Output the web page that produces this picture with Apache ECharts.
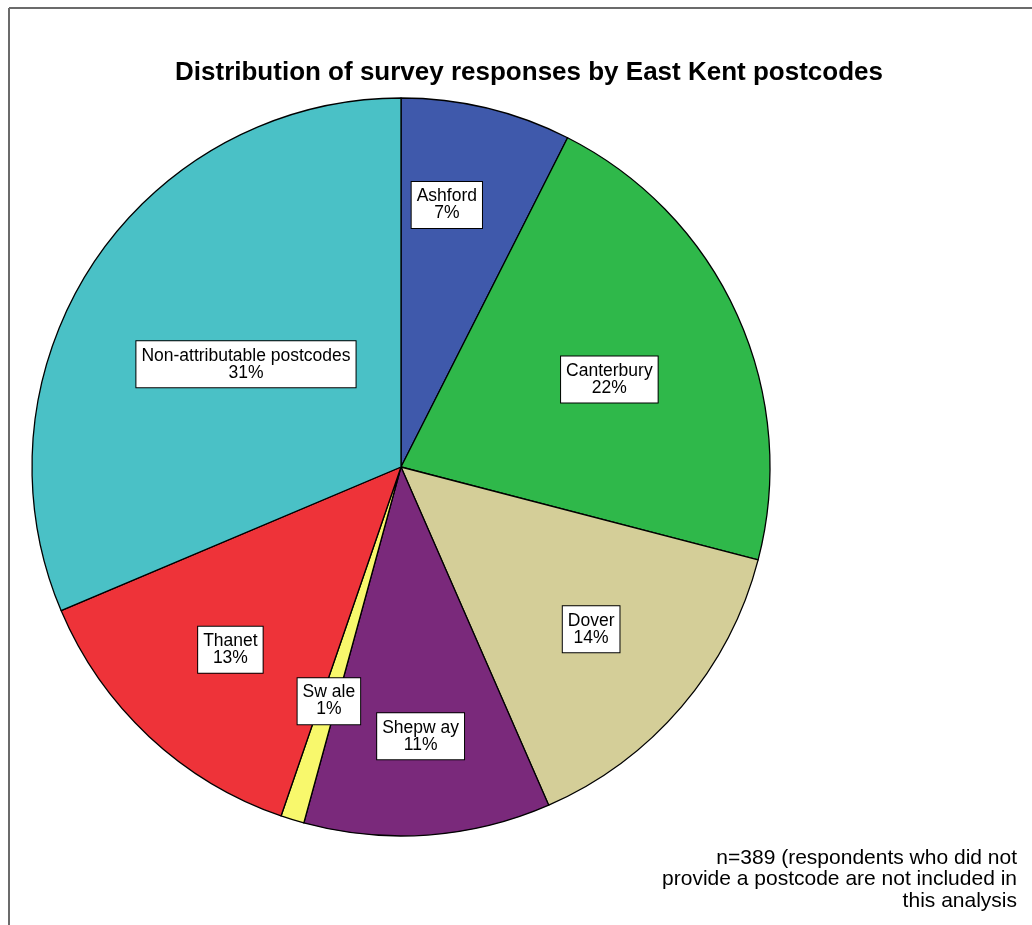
<!DOCTYPE html>
<html>
<head>
<meta charset="utf-8">
<script src="https://cdn.jsdelivr.net/npm/echarts@6/dist/echarts.min.js"></script>
<style>
html,body{margin:0;padding:0;background:#fff;}
#chart{width:1032px;height:925px;}
</style>
</head>
<body>
<div id="chart"></div>
<script>
// ---- data ----
const categories = ['Ashford', 'Canterbury', 'Dover', 'Shepw ay', 'Sw ale', 'Thanet', 'Non-attributable postcodes'];
const counts = [29, 84, 56, 42, 4, 52, 122];
const sliceColors = ['#3F59AB', '#2FB84A', '#D4CE98', '#7A297B', '#F8F86C', '#EE3339', '#4AC1C6'];
const titleText = 'Distribution of survey responses by East Kent postcodes';
const noteLines = ['n=389 (respondents who did not', 'provide a postcode are not included in', 'this analysis'];

// ---- layout (style only) ----
const CX = 401, CY = 467, R = 369;
const labelRadius = [266, 226, 250, 270, 245, 250, 186];
const labelAngleShift = [-3.5, 1.5, 0, 0, 0, 0, 0]; // degrees, clockwise

const total = counts.reduce((a, b) => a + b, 0);
const chart = echarts.init(document.getElementById('chart'), null, {renderer: 'canvas'});

const option = {
  backgroundColor: '#ffffff',
  animation: false,
  title: {
    text: titleText,
    left: 524,
    top: 55,
    textAlign: 'center',
    textStyle: {fontFamily: 'Liberation Sans', fontWeight: 'bold', fontSize: 26, color: '#000'}
  },
  graphic: [
    {type: 'line', shape: {x1: 9, y1: 8, x2: 1032, y2: 8}, style: {stroke: '#6b6b6b', lineWidth: 2}, silent: true},
    {type: 'line', shape: {x1: 9, y1: 8, x2: 9, y2: 925}, style: {stroke: '#6b6b6b', lineWidth: 2}, silent: true},
    {
      type: 'text', right: 15, top: 847,
      style: {
        text: noteLines.join('\n'),
        fontFamily: 'Liberation Sans', fontSize: 21, lineHeight: 21.5,
        fill: '#000', textAlign: 'right'
      }
    }
  ],
  series: [{
    type: 'pie',
    center: [CX, CY],
    radius: [0, R],
    startAngle: 90,
    clockwise: true,
    avoidLabelOverlap: false,
    itemStyle: {borderColor: '#000', borderWidth: 1.3},
    emphasis: {disabled: true},
    label: {
      show: true,
      position: 'inside',
      formatter: p => p.name + '\n' + Math.round(p.value / total * 100) + '%',
      fontFamily: 'Liberation Sans',
      fontSize: 17.5,
      lineHeight: 17,
      color: '#000',
      backgroundColor: '#fff',
      borderColor: '#000',
      borderWidth: 1,
      padding: [6, 5, 6, 5],
      align: 'center'
    },
    labelLine: {show: false},
    labelLayout: function (params) {
      const r = params.labelRect;
      const lx = r.x + r.width / 2, ly = r.y + r.height / 2;
      const vx = lx - CX, vy = ly - CY;
      const ang = Math.atan2(vx, -vy) + labelAngleShift[params.dataIndex] * Math.PI / 180;
      const rr = labelRadius[params.dataIndex];
      const nx = CX + rr * Math.sin(ang), ny = CY - rr * Math.cos(ang);
      return {dx: nx - lx, dy: ny - ly};
    },
    data: categories.map((c, i) => ({name: c, value: counts[i], itemStyle: {color: sliceColors[i]}}))
  }]
};
chart.setOption(option);
</script>
</body>
</html>
